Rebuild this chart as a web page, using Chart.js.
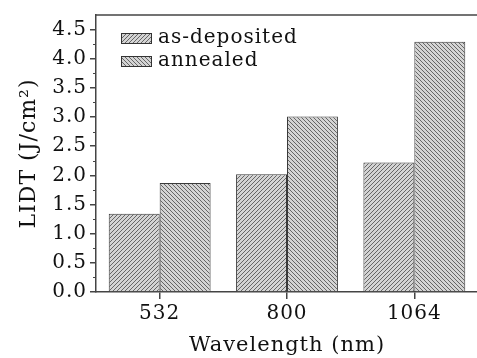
<!DOCTYPE html>
<html>
<head>
<meta charset="utf-8">
<script src="https://cdn.jsdelivr.net/npm/chart.js@4/dist/chart.umd.min.js"></script>
<style>
  html, body { margin: 0; padding: 0; background: #fff; overflow: hidden; }
  #wrap { width: 480px; height: 358px; }
</style>
</head>
<body>
<div id="wrap"><canvas id="graph"></canvas></div>
<script>
// data
var wavelengths = ['532', '800', '1064'];
var asDeposited = [1.34, 2.02, 2.22];
var annealed = [1.87, 3.01, 4.29];
var seriesNames = ['as-deposited', 'annealed'];
var yTicks = [0, 0.5, 1, 1.5, 2, 2.5, 3, 3.5, 4, 4.5];

var FONT = "'DejaVu Serif', 'Liberation Serif', serif";

function hatch(dir) {
  var s = 4;
  var c = document.createElement('canvas');
  c.width = s; c.height = s;
  var g = c.getContext('2d');
  g.fillStyle = '#d4d4d4';
  g.fillRect(0, 0, s, s);
  g.strokeStyle = '#666';
  g.lineWidth = 1;
  g.beginPath();
  if (dir > 0) {
    g.moveTo(-1, s + 1); g.lineTo(s + 1, -1);
    g.moveTo(-1, 1); g.lineTo(1, -1);
    g.moveTo(s - 1, s + 1); g.lineTo(s + 1, s - 1);
  } else {
    g.moveTo(-1, -1); g.lineTo(s + 1, s + 1);
    g.moveTo(s - 1, -1); g.lineTo(s + 1, 1);
    g.moveTo(-1, s - 1); g.lineTo(1, s + 1);
  }
  g.stroke();
  return document.createElement('canvas').getContext('2d').createPattern(c, 'repeat');
}

var pats = [hatch(1), hatch(-1)];

// the reference font is wide, so spread the letters a little
var spacing = {
  id: 'spacing',
  beforeUpdate: function(chart) { chart.ctx.letterSpacing = '1px'; },
  beforeDraw: function(chart) { chart.ctx.letterSpacing = '1px'; }
};

// legend inside the plot + top frame + minor ticks
var extras = {
  id: 'extras',
  afterDraw: function(chart) {
    var ctx = chart.ctx;
    var a = chart.chartArea;
    var y = chart.scales.y;
    ctx.save();
    ctx.strokeStyle = '#444';
    ctx.lineWidth = 1.5;
    ctx.beginPath();
    ctx.moveTo(a.left, a.top); ctx.lineTo(a.right, a.top);
    ctx.stroke();
    ctx.lineWidth = 1;
    for (var v = 0.25; v < 4.75; v += 0.5) {
      var py = Math.round(y.getPixelForValue(v)) + 0.5;
      ctx.beginPath(); ctx.moveTo(a.left - 3, py); ctx.lineTo(a.left, py); ctx.stroke();
    }
    ctx.font = '20px ' + FONT;
    ctx.letterSpacing = '1px';
    ctx.textBaseline = 'middle';
    for (var i = 0; i < seriesNames.length; i++) {
      var ly = 38 + i * 23;
      ctx.fillStyle = pats[i];
      ctx.fillRect(121, ly - 5, 31, 11);
      ctx.strokeStyle = '#333';
      ctx.strokeRect(121.5, ly - 4.5, 30, 10);
      ctx.fillStyle = '#111';
      ctx.fillText(seriesNames[i], 158, ly);
    }
    ctx.restore();
  }
};

var ctx = document.getElementById('graph').getContext('2d');
var graph = new Chart(ctx, {
  type: 'bar',
  data: {
    labels: wavelengths,
    datasets: [
      { label: seriesNames[0], data: asDeposited, backgroundColor: pats[0], borderColor: '#3a3a3a', borderWidth: 1 },
      { label: seriesNames[1], data: annealed, backgroundColor: pats[1], borderColor: '#3a3a3a', borderWidth: 1 }
    ]
  },
  options: {
    responsive: true,
    maintainAspectRatio: false,
    animation: false,
    layout: { padding: { top: 12, right: 2, left: 0, bottom: 0 } },
    datasets: { bar: { categoryPercentage: 0.8, barPercentage: 1.0 } },
    plugins: { legend: { display: false }, tooltip: { enabled: false } },
    scales: {
      x: {
        grid: { drawOnChartArea: false, offset: false, tickLength: 7, color: '#444', lineWidth: 1.5 },
        border: { color: '#444', width: 1.5 },
        ticks: { color: '#111', font: { family: FONT, size: 20 }, padding: 3 },
        title: { display: true, text: 'Wavelength (nm)', color: '#111', font: { family: FONT, size: 21 }, padding: { top: 3, bottom: 0 } },
        afterFit: function(s) { s.height = 66; }
      },
      y: {
        min: 0, max: 4.75,
        afterBuildTicks: function(s) { s.ticks = yTicks.map(function(v) { return { value: v }; }); },
        grid: { drawOnChartArea: false, tickLength: 6, color: '#444', lineWidth: 1.5 },
        border: { color: '#444', width: 1.5 },
        ticks: { color: '#111', font: { family: FONT, size: 20 }, padding: 3,
          callback: function(v) { return Number(v).toFixed(1); } },
        title: { display: true, text: 'LIDT (J/cm\u00b2)', color: '#111', font: { family: FONT, size: 22 }, padding: { top: 16, bottom: 0 } },
        afterFit: function(s) { s.width = 96; }
      }
    }
  },
  plugins: [spacing, extras]
});
</script>
</body>
</html>
